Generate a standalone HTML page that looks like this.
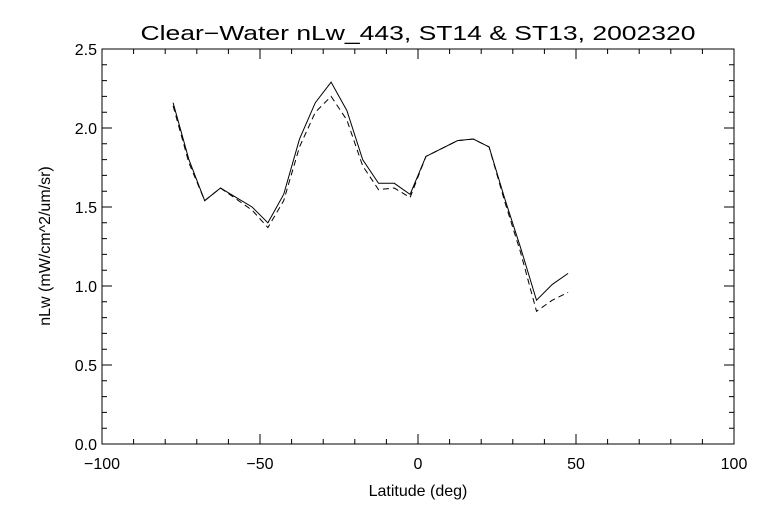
<!DOCTYPE html>
<html><head><meta charset="utf-8"><style>
body{margin:0;background:#fff;}
svg text{font-family:"Liberation Sans",sans-serif;fill:#000;}
</style></head><body>
<svg id="chart" width="768" height="512" xmlns="http://www.w3.org/2000/svg">
<rect width="768" height="512" fill="#fff"/>
<text x="418" y="40" font-size="20" text-anchor="middle" textLength="555" lengthAdjust="spacingAndGlyphs">Clear−Water nLw_443, ST14 &amp; ST13, 2002320</text>
<text x="418" y="496" font-size="16" text-anchor="middle">Latitude (deg)</text>
<text transform="translate(50,246) rotate(-90)" font-size="16" text-anchor="middle">nLw (mW/cm^2/um/sr)</text>
<g id="axes"></g>
<g id="series"></g>
</svg>
<script>
const lats = [-77.5,-72.5,-67.5,-62.5,-57.5,-52.5,-47.5,-42.5,-37.5,-32.5,-27.5,-22.5,-17.5,-12.5,-7.5,-2.5,2.5,7.5,12.5,17.5,22.5,27.5,32.5,37.5,42.5,47.5];
const st14 = [2.16,1.80,1.54,1.62,1.56,1.50,1.40,1.58,1.93,2.16,2.29,2.11,1.80,1.65,1.65,1.58,1.82,1.87,1.92,1.93,1.88,1.55,1.24,0.91,1.01,1.08];
const st13 = [2.14,1.78,1.54,1.62,1.55,1.48,1.37,1.54,1.88,2.10,2.20,2.05,1.76,1.61,1.62,1.56,1.82,1.87,1.92,1.93,1.88,1.53,1.21,0.84,0.91,0.96];
const xTicks = [-100,-50,0,50,100];
const yTicks = [0.0,0.5,1.0,1.5,2.0,2.5];
const X0=102,X1=734,Y0=444,Y1=49;
const xs=v=>X0+(v+100)/200*(X1-X0);
const ys=v=>Y0-v/2.5*(Y0-Y1);
const NS="http://www.w3.org/2000/svg";
const ax=document.getElementById('axes');
function mk(tag,attrs,parent){const e=document.createElementNS(NS,tag);for(const k in attrs)e.setAttribute(k,attrs[k]);parent.appendChild(e);return e;}
const frame=mk('rect',{x:X0,y:Y1,width:X1-X0,height:Y0-Y1,fill:'none',stroke:'#000','stroke-width':1},ax);


let d='';
for(let v=-100;v<=100;v+=10){const x=xs(v);const L=(v%50===0)?10:5;d+=`M${x},${Y0}v${-L}M${x},${Y1}v${L}`;}
for(let i=0;i<=25;i++){const v=i/10;const y=ys(v);const L=(i%5===0)?10:5;d+=`M${X0},${y}h${L}M${X1},${y}h${-L}`;}
const tk=mk('path',{d:d,stroke:'#000','stroke-width':1,fill:'none'},ax);


xTicks.forEach(v=>{const t=mk('text',{x:xs(v),y:Y0+25,'font-size':16,'text-anchor':'middle'},ax);t.textContent=(v<0?'−':'')+Math.abs(v);

});
yTicks.forEach(v=>{const t=mk('text',{x:X0-5,y:ys(v)+6,'font-size':16,'text-anchor':'end'},ax);t.textContent=v.toFixed(1);

});
const sg=document.getElementById('series');
function line(vals,dash,name){const pts=lats.map((x,i)=>xs(x)+','+ys(vals[i])).join(' ');
const p=mk('polyline',{points:pts,fill:'none',stroke:'#000','stroke-width':1},sg);if(dash)p.setAttribute('stroke-dasharray',dash);

}
line(st14,null,'st14-line');
line(st13,'6,4','st13-line');
</script>
</body></html>
